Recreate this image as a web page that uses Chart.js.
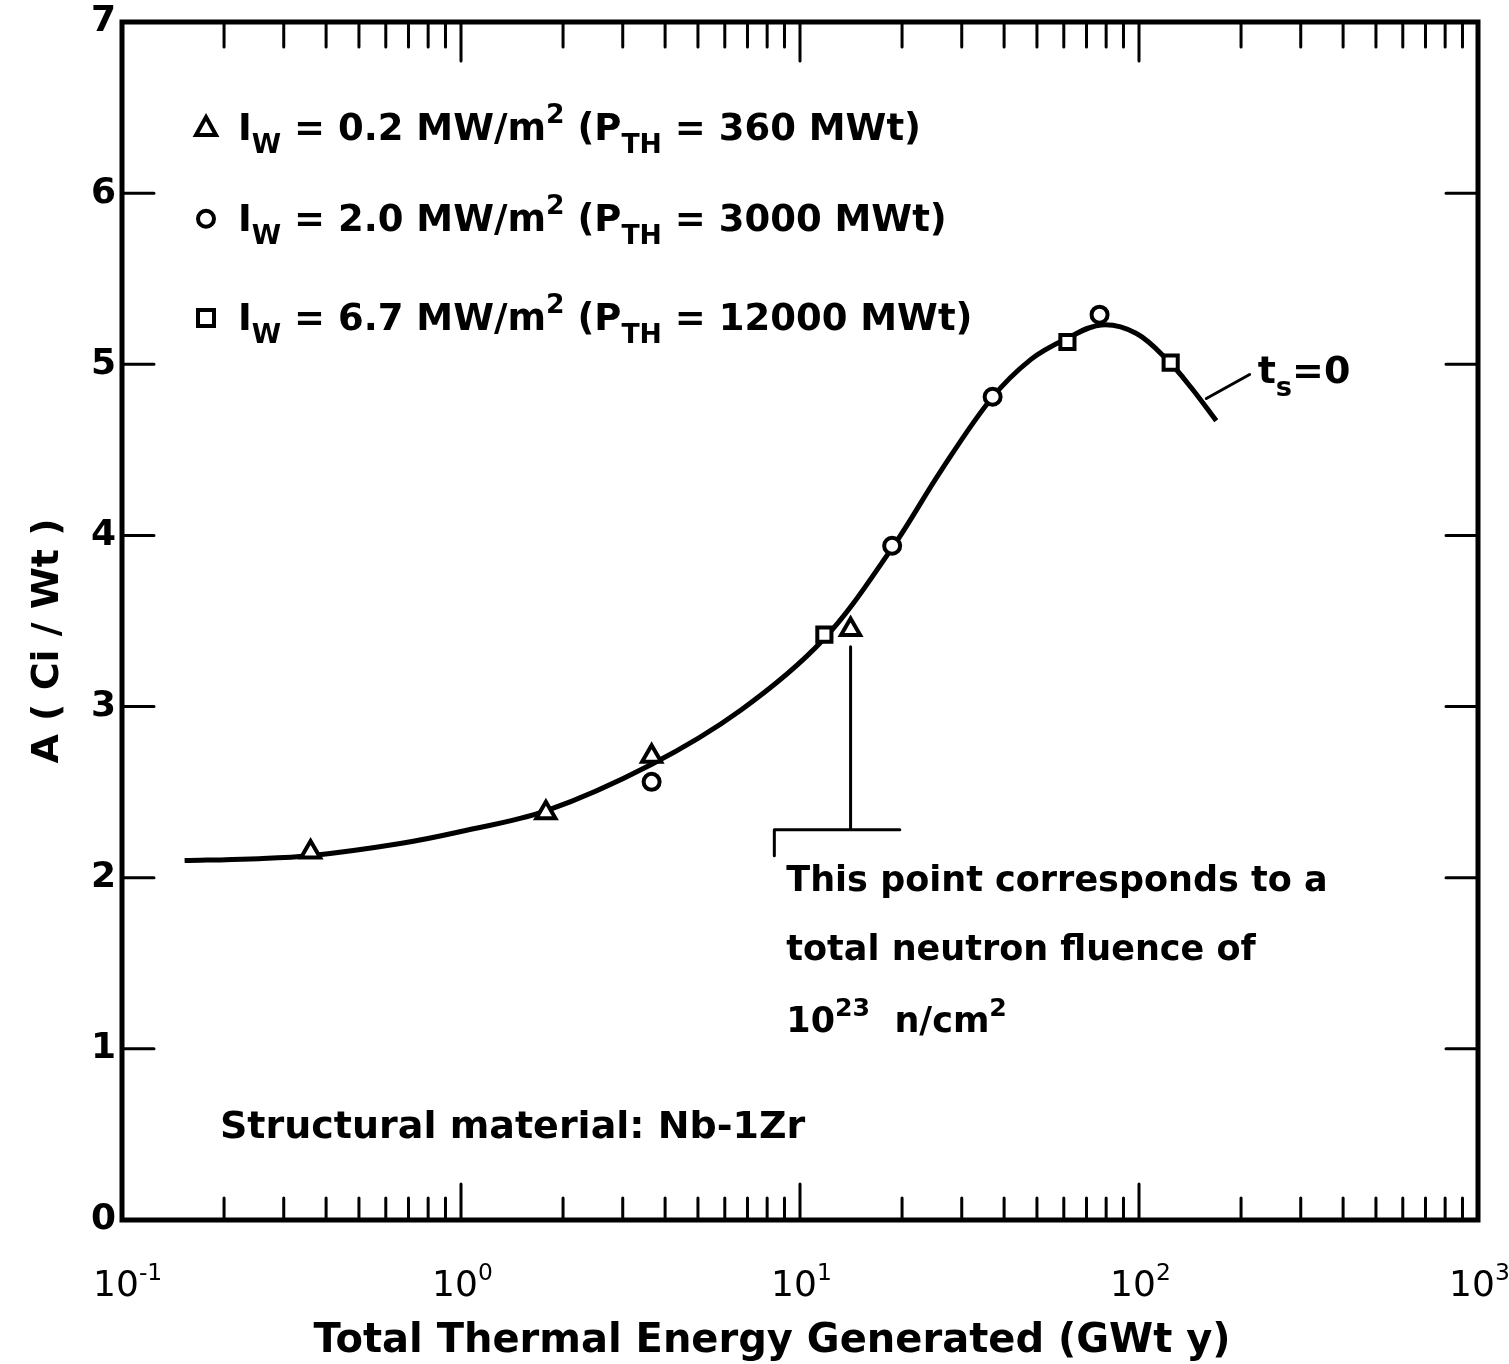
<!DOCTYPE html>
<html>
<head>
<meta charset="utf-8">
<script src="https://cdn.jsdelivr.net/npm/chart.js@4.4.1/dist/chart.umd.min.js"></script>
<style>
  html, body { margin: 0; padding: 0; background: #fff; }
  #wrap { width: 1509px; height: 1364px; }
</style>
</head>
<body>
<div id="wrap"><canvas id="grafico" width="1509" height="1364"></canvas></div>
<script>
// fitted curve (t_s = 0)
const curveX = [0.153, 0.239, 0.364, 0.662, 1.0, 1.78, 3.63, 6.7, 11.7, 18.6, 26.1, 36.7, 48.1, 61.1, 77.5, 98.3, 122, 143, 169];
const curveY = [2.10, 2.11, 2.13, 2.20, 2.27, 2.39, 2.66, 2.98, 3.39, 3.92, 4.38, 4.80, 5.03, 5.15, 5.23, 5.18, 5.02, 4.86, 4.67];

// I_W = 0.2 MW/m2 (triangles)
const triX = [0.36, 1.78, 3.65, 14.1];
const triY = [2.15, 2.38, 2.71, 3.45];
// I_W = 2.0 MW/m2 (circles)
const cirX = [3.65, 18.7, 37, 76.5];
const cirY = [2.56, 3.94, 4.81, 5.29];
// I_W = 6.7 MW/m2 (squares)
const sqX = [11.8, 61.5, 124];
const sqY = [3.42, 5.13, 5.01];

const xExps = [-1, 0, 1, 2, 3];
const yTicks = [0, 1, 2, 3, 4, 5, 6, 7];

const FONT = '"DejaVu Sans", sans-serif';

function toPts(xs, ys) {
  return xs.map((x, i) => ({ x: x, y: ys[i] }));
}

// text with sub / superscripts, parts: [text, 'n'|'sub'|'sup']
function drawRich(ctx, x, y, parts, size, weight, ratio) {
  let cx = x;
  const w = weight || 'bold';
  const r = ratio || 0.72;
  parts.forEach(p => {
    const small = p[1] !== 'n';
    const s = small ? size * r : size;
    ctx.font = w + ' ' + s + 'px ' + FONT;
    let dy = 0;
    if (p[1] === 'sub') dy = size * 0.35;
    if (p[1] === 'sup') dy = -size * 0.45;
    ctx.fillText(p[0], cx, y + dy);
    cx += ctx.measureText(p[0]).width;
  });
  return cx;
}

function marker(ctx, style, x, y, r) {
  ctx.save();
  ctx.lineWidth = 4;
  ctx.strokeStyle = '#000';
  ctx.fillStyle = '#fff';
  ctx.beginPath();
  if (style === 'triangle') {
    ctx.moveTo(x, y - r * 1.1);
    ctx.lineTo(x + r, y + r * 0.7);
    ctx.lineTo(x - r, y + r * 0.7);
    ctx.closePath();
  } else if (style === 'circle') {
    ctx.arc(x, y, r * 0.8, 0, Math.PI * 2);
  } else {
    ctx.rect(x - r * 0.8, y - r * 0.8, r * 1.6, r * 1.6);
  }
  ctx.fill();
  ctx.stroke();
  ctx.restore();
}

const marcoPlugin = {
  id: 'marco',
  afterDraw(chart) {
    const ctx = chart.ctx;
    const a = chart.chartArea;
    const xs = chart.scales.x, ys = chart.scales.y;
    ctx.save();
    ctx.strokeStyle = '#000';
    ctx.fillStyle = '#000';
    ctx.lineCap = 'round';

    // frame
    ctx.lineWidth = 5;
    ctx.strokeRect(a.left, a.top, a.right - a.left, a.bottom - a.top);

    // x ticks (inside, bottom and top)
    ctx.lineWidth = 3;
    for (let e = -1; e < 3; e++) {
      for (let m = 1; m <= 9; m++) {
        if (e === -1 && m === 1) continue;
        const px = xs.getPixelForValue(m * Math.pow(10, e));
        const len = m === 1 ? 36 : 22;
        ctx.beginPath();
        ctx.moveTo(px, a.bottom); ctx.lineTo(px, a.bottom - len);
        ctx.moveTo(px, a.top); ctx.lineTo(px, a.top + len + 3);
        ctx.stroke();
      }
    }
    // y ticks (inside, left and right)
    yTicks.forEach(v => {
      if (v === 0 || v === 7) return;
      const py = ys.getPixelForValue(v);
      ctx.beginPath();
      ctx.moveTo(a.left, py); ctx.lineTo(a.left + 32, py);
      ctx.moveTo(a.right, py); ctx.lineTo(a.right - 32, py);
      ctx.stroke();
    });

    // y tick labels
    ctx.font = 'bold 36px ' + FONT;
    ctx.textAlign = 'right';
    ctx.textBaseline = 'middle';
    yTicks.forEach(v => {
      ctx.fillText(String(v), a.left - 6, ys.getPixelForValue(v));
    });

    // x tick labels 10^n
    ctx.textAlign = 'left';
    ctx.textBaseline = 'alphabetic';
    xExps.forEach(e => {
      const px = xs.getPixelForValue(Math.pow(10, e));
      ctx.font = '36px ' + FONT;
      const w = ctx.measureText('10').width;
      drawRich(ctx, px - w / 2 - 6, a.bottom + 76, [['10', 'n'], [String(e), 'sup']], 36, 'normal', 0.65);
    });

    // axis titles
    ctx.font = 'bold 40px ' + FONT;
    ctx.textAlign = 'center';
    ctx.fillText('Total Thermal Energy Generated (GWt y)', (a.left + a.right) / 2 - 28, a.bottom + 132);
    ctx.save();
    ctx.translate(58, (a.top + a.bottom) / 2 + 20);
    ctx.rotate(-Math.PI / 2);
    ctx.font = 'bold 38px ' + FONT;
    ctx.fillText('A ( Ci / Wt )', 0, 0);
    ctx.restore();

    // legend entries
    ctx.textAlign = 'left';
    const leg = [
      ['triangle', [['I', 'n'], ['W', 'sub'], ' = 0.2 MW/m', ['2', 'sup'], ' (P', ['TH', 'sub'], ' = 360 MWt)']],
      ['circle', [['I', 'n'], ['W', 'sub'], ' = 2.0 MW/m', ['2', 'sup'], ' (P', ['TH', 'sub'], ' = 3000 MWt)']],
      ['square', [['I', 'n'], ['W', 'sub'], ' = 6.7 MW/m', ['2', 'sup'], ' (P', ['TH', 'sub'], ' = 12000 MWt)']]
    ];
    const legY = [ys.getPixelForValue(6.31), ys.getPixelForValue(5.78), ys.getPixelForValue(5.2)];
    leg.forEach((l, i) => {
      marker(ctx, l[0], a.left + 84, legY[i] - 12, 10);
      const parts = l[1].map(p => typeof p === 'string' ? [p, 'n'] : p);
      drawRich(ctx, a.left + 116, legY[i], parts, 37);
    });

    // structural material note
    ctx.font = 'bold 38px ' + FONT;
    ctx.fillText('Structural material: Nb-1Zr', a.left + 98, ys.getPixelForValue(0.48));

    // annotation for the 10^23 n/cm2 point
    const axp = xs.getPixelForValue(triX[3]);
    const yTop = ys.getPixelForValue(3.35);
    const yBr = ys.getPixelForValue(2.28);
    const bl = xs.getPixelForValue(8.4), br = xs.getPixelForValue(19.7);
    ctx.lineWidth = 3;
    ctx.beginPath();
    ctx.moveTo(axp, yTop); ctx.lineTo(axp, yBr);
    ctx.moveTo(bl, yBr); ctx.lineTo(br, yBr);
    ctx.moveTo(bl, yBr); ctx.lineTo(bl, yBr + 26);
    ctx.stroke();
    ctx.font = 'bold 35px ' + FONT;
    const tx = bl + 12;
    ctx.fillText('This point corresponds to a', tx, ys.getPixelForValue(1.92));
    ctx.fillText('total neutron fluence of', tx, ys.getPixelForValue(1.52));
    drawRich(ctx, tx, ys.getPixelForValue(1.1), [['10', 'n'], ['23', 'sup'], ['  n/cm', 'n'], ['2', 'sup']], 35);

    // t_s = 0 label
    const lx0 = xs.getPixelForValue(158), ly0 = ys.getPixelForValue(4.8);
    const lx1 = xs.getPixelForValue(212), ly1 = ys.getPixelForValue(4.94);
    ctx.beginPath();
    ctx.moveTo(lx0, ly0); ctx.lineTo(lx1, ly1);
    ctx.stroke();
    drawRich(ctx, lx1 + 8, ly1 + 8, [['t', 'n'], ['s', 'sub'], ['=0', 'n']], 38);

    ctx.restore();
  }
};

new Chart(document.getElementById('grafico').getContext('2d'), {
  type: 'scatter',
  data: {
    datasets: [
      {
        label: 't_s = 0',
        data: toPts(curveX, curveY),
        showLine: true,
        borderColor: '#000',
        borderWidth: 5,
        pointRadius: 0,
        tension: 0.35,
        order: 2
      },
      {
        label: 'I_W = 0.2',
        data: toPts(triX, triY),
        pointStyle: 'triangle',
        pointRadius: 11,
        borderColor: '#000',
        backgroundColor: '#fff',
        borderWidth: 4,
        order: 1
      },
      {
        label: 'I_W = 2.0',
        data: toPts(cirX, cirY),
        pointStyle: 'circle',
        pointRadius: 8,
        borderColor: '#000',
        backgroundColor: '#fff',
        borderWidth: 4,
        order: 1
      },
      {
        label: 'I_W = 6.7',
        data: toPts(sqX, sqY),
        pointStyle: 'rect',
        pointRadius: 10,
        borderColor: '#000',
        backgroundColor: '#fff',
        borderWidth: 4,
        order: 1
      }
    ]
  },
  options: {
    responsive: false,
    animation: false,
    layout: { padding: { left: 122, right: 31, top: 22, bottom: 144 } },
    plugins: { legend: { display: false }, tooltip: { enabled: false } },
    scales: {
      x: {
        type: 'logarithmic',
        min: 0.1,
        max: 1000,
        ticks: { display: false },
        grid: { display: false, drawTicks: false },
        border: { display: false }
      },
      y: {
        type: 'linear',
        min: 0,
        max: 7,
        ticks: { display: false },
        grid: { display: false, drawTicks: false },
        border: { display: false }
      }
    }
  },
  plugins: [marcoPlugin]
});
</script>
</body>
</html>
